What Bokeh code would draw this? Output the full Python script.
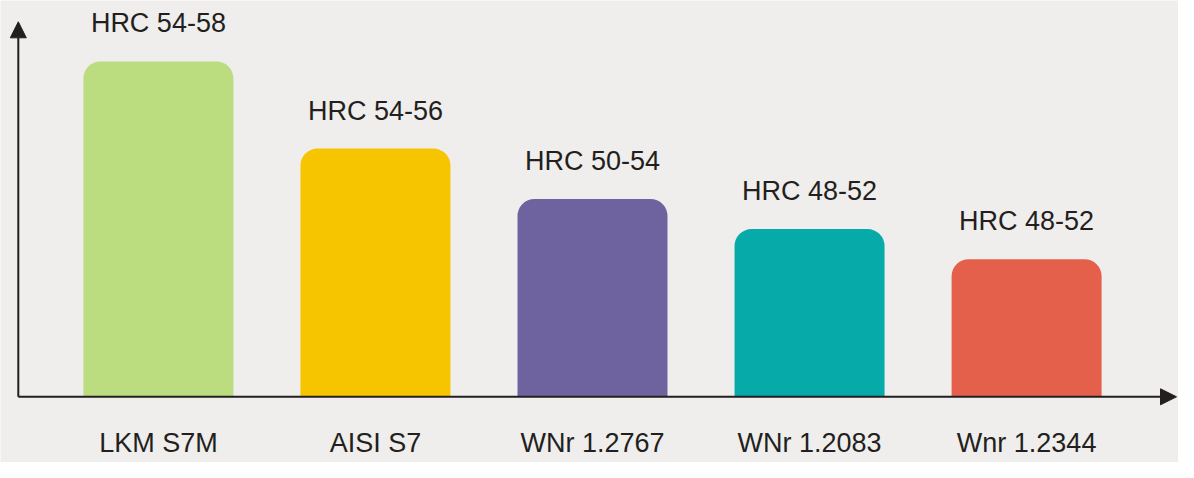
from bokeh.plotting import figure
from bokeh.models import Range1d, ColumnDataSource, Arrow, NormalHead
from bokeh.core.properties import value
from bokeh.embed import file_html
from bokeh.resources import INLINE

categories = ["LKM S7M", "AISI S7", "WNr 1.2767", "WNr 1.2083", "Wnr 1.2344"]
hardness_labels = ["HRC 54-58", "HRC 54-56", "HRC 50-54", "HRC 48-52", "HRC 48-52"]
values = [100, 74, 59, 50, 41]
colors = ["#BBDD80", "#F7C400", "#6F639F", "#06ABA9", "#E5604A"]

W, H = 1178, 462
BG = "#EFEEEC"
INK = "#231F20"

px_x = 217.05           # pixels per category step
x_start = -0.7275
x_end = x_start + W / px_x
px_y = 3.354            # pixels per value unit
y_start = -65.7 / px_y
y_end = y_start + H / px_y

p = figure(width=W, height=H, output_backend="svg", toolbar_location=None,
           x_range=Range1d(x_start, x_end), y_range=Range1d(y_start, y_end),
           min_border=0, background_fill_color=BG, border_fill_color=BG,
           outline_line_color=None)
p.xaxis.visible = False
p.yaxis.visible = False
p.grid.visible = False

xs = list(range(len(categories)))
src = ColumnDataSource(dict(x=xs, top=values, color=colors, cat=categories, lab=hardness_labels))

p.vbar(x="x", top="top", bottom=0, width=150 / px_x, fill_color="color",
       line_color=None, border_radius=(17, 17, 0, 0), source=src)

# axes with arrows
ax_x = x_start + 17.8 / px_x
tip_x = x_start + 1176 / px_x
tip_y = y_start + 440.7 / px_y
p.add_layout(Arrow(x_start=ax_x, y_start=0, x_end=ax_x, y_end=tip_y,
                   line_color=INK, line_width=2,
                   end=NormalHead(size=16, fill_color=INK, line_color=INK)))
p.add_layout(Arrow(x_start=ax_x, y_start=0, x_end=tip_x, y_end=0,
                   line_color=INK, line_width=2,
                   end=NormalHead(size=16, fill_color=INK, line_color=INK)))

p.text(x="x", y="top", text="lab", source=src, y_offset=-38,
       text_align="center", text_baseline="alphabetic",
       text_font=value("Liberation Sans"), text_font_size="27px", text_color=INK)
p.text(x="x", y=0, text="cat", source=src, y_offset=46,
       text_align="center", text_baseline="alphabetic",
       text_font=value("Liberation Sans"), text_font_size="27px", text_color=INK)

open("out.html", "w").write(file_html(p, INLINE))
